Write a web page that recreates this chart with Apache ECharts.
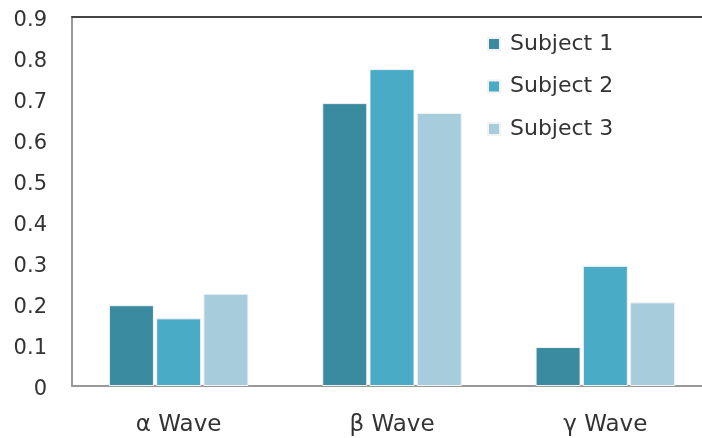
<!DOCTYPE html>
<html><head><meta charset="utf-8">
<script src="https://cdn.jsdelivr.net/npm/echarts@6/dist/echarts.min.js"></script>
<style>html,body{margin:0;padding:0;background:#fff}#c{width:702px;height:438px}</style>
</head><body><div id="c"></div>
<script>
const categories = ['α Wave', 'β Wave', 'γ Wave'];
const subject1 = [0.197, 0.69, 0.095];
const subject2 = [0.165, 0.773, 0.293];
const subject3 = [0.225, 0.666, 0.204];
const seriesNames = ['Subject 1', 'Subject 2', 'Subject 3'];
const colors = ['#3a8aa0', '#4aabc6', '#a7cddc'];

const chart = echarts.init(document.getElementById('c'));
const font = 'DejaVu Sans';
const mk = (name, data, i) => ({
  name, type: 'bar', data, barWidth: 45, barGap: '5%',
  itemStyle: { color: colors[i], borderColor: '#f2f2f2', borderWidth: 1 },
  xAxisIndex: 0
});
chart.setOption({
  animation: false,
  grid: { left: 72, top: 17, width: 640, bottom: 52, outerBoundsMode: 'none' },
  legend: {
    orient: 'vertical', left: 482, top: 28, itemWidth: 12, itemHeight: 12,
    itemGap: 20.5, icon: 'rect',
    textStyle: { fontFamily: font, fontSize: 22, lineHeight: 22, color: '#333', padding: [0, 0, 0, 5] },
    data: seriesNames
  },
  xAxis: [{
    type: 'category', data: categories,
    axisLine: { lineStyle: { color: '#999', width: 2 } },
    axisTick: { show: false },
    axisLabel: { fontFamily: font, fontSize: 23, color: '#333', margin: 28 }
  }, {
    type: 'category', data: categories, position: 'top',
    axisLine: { show: true, lineStyle: { color: '#444', width: 2 } },
    axisTick: { show: false }, axisLabel: { show: false }
  }],
  yAxis: {
    type: 'value', min: 0, max: 0.9, interval: 0.1,
    axisLine: { show: true, lineStyle: { color: '#999', width: 2 } },
    axisTick: { show: false }, splitLine: { show: false },
    axisLabel: { fontFamily: font, fontSize: 21, color: '#333', margin: 25, verticalAlign: 'top', lineHeight: 8 }
  },
  series: [mk(seriesNames[0], subject1, 0), mk(seriesNames[1], subject2, 1), mk(seriesNames[2], subject3, 2)]
});
</script></body></html>
